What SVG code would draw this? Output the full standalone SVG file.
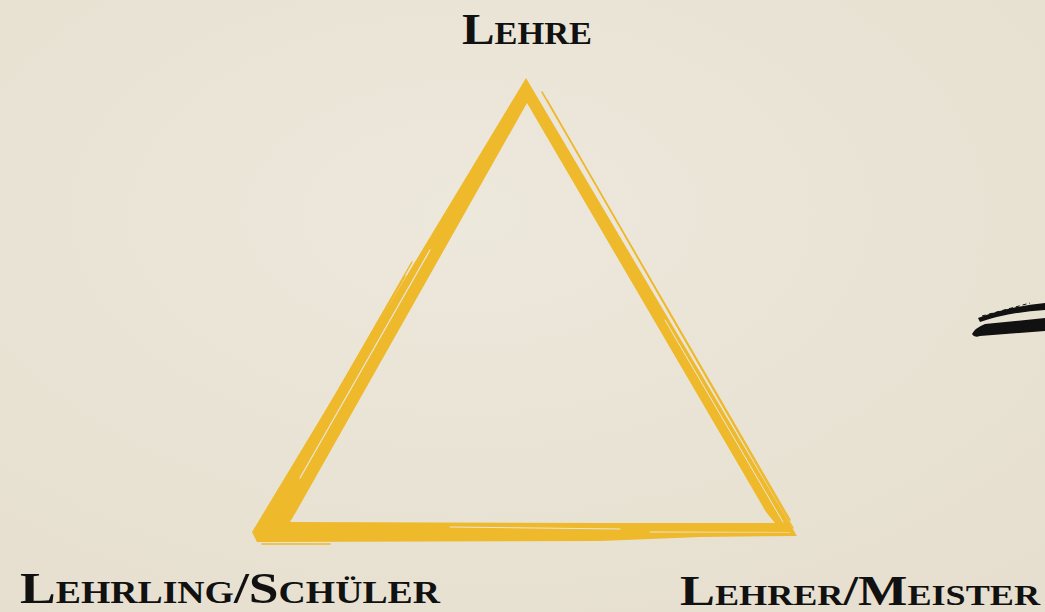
<svg xmlns="http://www.w3.org/2000/svg" width="1045" height="612" viewBox="0 0 1045 612">
<defs>
<style>
.lbl{font-family:"Liberation Serif","DejaVu Serif",serif;font-weight:bold;font-variant:small-caps;fill:#111;}
.gold{fill:#eeb92b;}
.gs{fill:none;stroke:#eeb92b;stroke-linecap:round;}
.gap{fill:none;stroke:#ece6d8;stroke-linecap:round;}
</style>
<radialGradient id="bg" cx="0.45" cy="0.35" r="0.8">
<stop offset="0" stop-color="#ede8dc"/>
<stop offset="1" stop-color="#e6dfcf"/>
</radialGradient>
</defs>
<rect width="1045" height="612" fill="url(#bg)"/>
<g id="triangle">
<path class="gold" fill-rule="evenodd" d="M526 78 L797 536 L700 537 L600 541 L257 542 L252 532 Z M527 103 L296 512 L290 522 L600 523 L775 523 L766 512 Z"/>
<path class="gap" stroke-width="1.2" d="M430 250 L300 478"/>
<path class="gap" stroke-width="1" d="M645 308 L745 478"/>
<path class="gap" stroke-width="1" d="M665 320 L783 522"/>
<path class="gap" stroke-width="1" d="M650 532 L790 532"/>
<path class="gap" stroke-width="1" d="M450 527 L620 529"/>
<path class="gs" stroke-width="1.5" d="M542 92 L790 520"/>
<path class="gs" stroke-width="1.5" d="M547 100 L793 528"/>
<path class="gs" stroke-width="1.5" d="M412 262 L275 500"/>
<path class="gs" stroke-width="1.5" d="M405 276 L282 488"/>
<path class="gs" stroke-width="2" d="M640 530 L790 531"/>
<path class="gs" stroke-width="1.5" d="M262 544 L330 544"/>
</g>
<g id="brush">
<path d="M1045 318 L985 324 Q975 328 972 334 Q974 338 980 336 L1045 331 Z" fill="#111"/>
<path d="M978 318 Q1010 306 1045 303 L1045 310 Q1010 312 980 322 Z" fill="#111"/>
<path d="M982 316 L1030 303" stroke="#111" stroke-width="1" stroke-dasharray="4 3"/>
</g>
<g id="n-lehre"><text class="lbl" x="527" y="44" font-size="44" text-anchor="middle" textLength="130" lengthAdjust="spacingAndGlyphs">Lehre</text></g>
<g id="n-schueler"><text class="lbl" x="20" y="603" font-size="44" textLength="420" lengthAdjust="spacingAndGlyphs">Lehrling/Schüler</text></g>
<g id="n-meister"><text class="lbl" x="680" y="605" font-size="42" textLength="360" lengthAdjust="spacingAndGlyphs">Lehrer/Meister</text></g>
</svg>
